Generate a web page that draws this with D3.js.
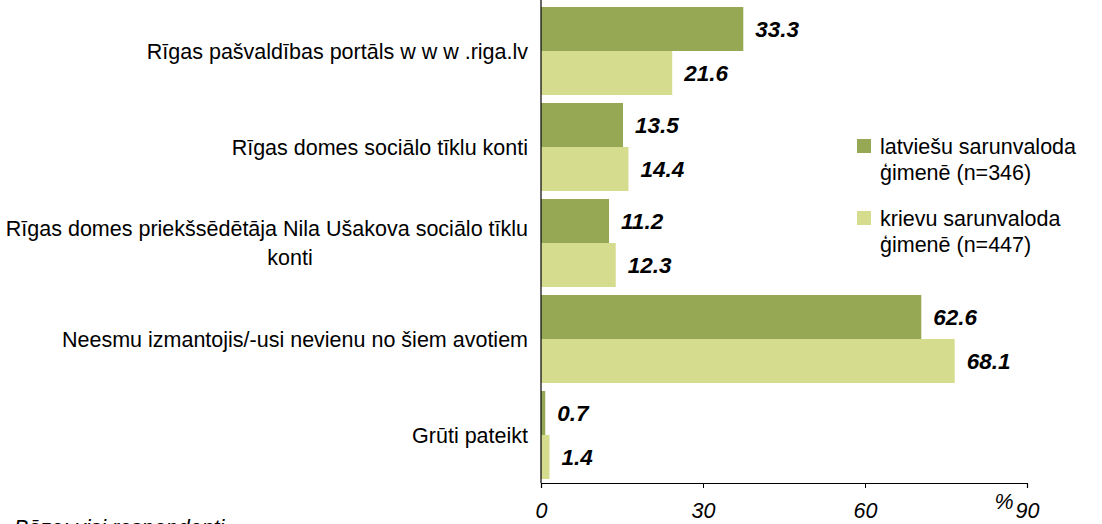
<!DOCTYPE html>
<html>
<head>
<meta charset="utf-8">
<script src="https://cdn.jsdelivr.net/npm/d3@7"></script>
<style>
body { margin: 0; background: #fff; }
text { font-family: "Liberation Sans", Arial, sans-serif; }
</style>
</head>
<body>
<script>
var categories = [
  "Rīgas pašvaldības portāls w w w .riga.lv",
  "Rīgas domes sociālo tīklu konti",
  "Rīgas domes priekšsēdētāja Nila Ušakova sociālo tīklu\nkonti",
  "Neesmu izmantojis/-usi nevienu no šiem avotiem",
  "Grūti pateikt"
];
var seriesNames = [
  ["latviešu sarunvaloda", "ģimenē (n=346)"],
  ["krievu sarunvaloda", "ģimenē (n=447)"]
];
var latvian = [33.3, 13.5, 11.2, 62.6, 0.7];
var russian = [21.6, 14.4, 12.3, 68.1, 1.4];
var tickLabels = [0, 30, 60, 90];
var colors = ["#97a854", "#d5dc8e"];

var width = 1102, height = 524;
var x0 = 541, x1 = 1027, yTop = 3, yBottom = 483;
var fs = 21.5;

var svg = d3.select("body").append("svg")
  .attr("width", width)
  .attr("height", height);

// bars use a 0-80 scale, axis labels in the original read 0-90 over same length
var xScale = d3.scaleLinear().domain([0, 80]).range([x0, x1]);
var axisScale = d3.scaleLinear().domain([0, 90]).range([x0, x1]);

var yScale = d3.scaleBand()
  .domain(categories)
  .range([yTop, yBottom])
  .paddingInner(0.083)
  .paddingOuter(0.0415);

var sub = d3.scaleBand().domain([0, 1]).range([0, yScale.bandwidth()]);

var rows = categories.map(function(c, i) {
  return { cat: c, vals: [latvian[i], russian[i]] };
});

var g = svg.selectAll("g.row")
  .data(rows)
  .enter()
  .append("g")
  .attr("class", "row")
  .attr("transform", function(d) { return "translate(0," + yScale(d.cat) + ")"; });

g.selectAll("rect")
  .data(function(d) { return d.vals; })
  .enter()
  .append("rect")
  .attr("x", x0)
  .attr("y", function(d, i) { return sub(i); })
  .attr("width", function(d) { return xScale(d) - x0; })
  .attr("height", sub.bandwidth())
  .attr("fill", function(d, i) { return colors[i]; });

g.selectAll("text.val")
  .data(function(d) { return d.vals; })
  .enter()
  .append("text")
  .attr("class", "val")
  .attr("x", function(d) { return xScale(d) + 12; })
  .attr("y", function(d, i) { return sub(i) + sub.bandwidth() / 2; })
  .attr("dy", "0.35em")
  .attr("font-size", 22.5)
  .attr("font-weight", "bold")
  .attr("font-style", "italic")
  .attr("fill", "#000")
  .text(function(d) { return d.toFixed(1); });

// category labels
g.each(function(d) {
  var lines = d.cat.split("\n");
  var cy = yScale.bandwidth() / 2;
  var t = d3.select(this);
  if (lines.length == 1) {
    t.append("text")
      .attr("x", 528).attr("y", cy).attr("dy", "0.35em")
      .attr("text-anchor", "end").attr("font-size", fs)
      .text(lines[0]);
  } else {
    t.append("text")
      .attr("x", 528).attr("y", cy - 15).attr("dy", "0.35em")
      .attr("text-anchor", "end").attr("font-size", fs)
      .text(lines[0]);
    t.append("text")
      .attr("x", 290).attr("y", cy + 14).attr("dy", "0.35em")
      .attr("text-anchor", "middle").attr("font-size", fs)
      .text(lines[1]);
  }
});

// y axis line
svg.append("line")
  .attr("x1", x0).attr("x2", x0)
  .attr("y1", 0).attr("y2", yBottom)
  .attr("stroke", "#000").attr("stroke-width", 1.2);

// x axis
var xAxis = d3.axisBottom(axisScale)
  .tickValues(tickLabels)
  .tickSize(5)
  .tickFormat(d3.format("d"));

var ax = svg.append("g")
  .attr("transform", "translate(0," + yBottom + ")")
  .call(xAxis);
ax.attr("font-size", null);
ax.select(".domain").attr("stroke", "#000").attr("stroke-width", 1.2);
ax.selectAll(".tick line").attr("stroke", "#000");
ax.selectAll(".tick text")
  .style("font-size", fs + "px")
  .style("font-style", "italic")
  .attr("fill", "#000")
  .attr("y", 35)
  .attr("dy", null);

svg.append("text")
  .attr("x", 1004).attr("y", 501)
  .attr("dy", "0.35em")
  .attr("text-anchor", "middle")
  .attr("font-size", fs).attr("font-style", "italic")
  .text("%");

// legend
var legY = [146, 218];
seriesNames.forEach(function(lines, i) {
  svg.append("rect")
    .attr("x", 857).attr("y", legY[i] - 7)
    .attr("width", 14).attr("height", 14)
    .attr("fill", colors[i]);
  lines.forEach(function(l, j) {
    svg.append("text")
      .attr("x", 880).attr("y", legY[i] + j * 26)
      .attr("dy", "0.35em")
      .attr("font-size", fs)
      .text(l);
  });
});

// footnote, cut off at the bottom edge as in the original
svg.append("text")
  .attr("x", 14).attr("y", 535)
  .attr("font-size", fs).attr("font-style", "italic")
  .text("Bāze: visi respondenti");
</script>
</body>
</html>
